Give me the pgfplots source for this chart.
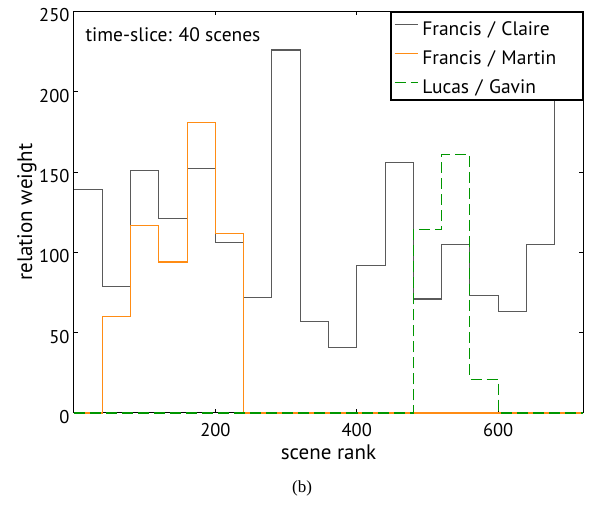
\documentclass[border=0pt]{standalone}
\usepackage{fontspec}
\setmainfont{PT Sans}
\newfontfamily\capfont{Liberation Serif}
\usepackage{pgfplots}
\pgfplotsset{compat=1.18}
\definecolor{claire}{RGB}{90,90,90}
\definecolor{martin}{RGB}{255,140,20}
\definecolor{lucas}{RGB}{0,150,0}
\begin{document}
\begin{tikzpicture}
\begin{axis}[
  scale only axis, width=509pt, height=401.5pt,
  xmin=0, xmax=720, ymin=0, ymax=250,
  xtick={200,400,600}, ytick={0,50,100,150,200,250},
  tick pos=both, tick align=inside, major tick length=4pt,
  /pgf/number format/assume math mode=true,
  font=\fontsize{19.5}{23}\selectfont,
  ticklabel style={font=\fontsize{18.5}{22}\selectfont},
  xticklabel style={yshift=-6.5pt},
  yticklabel style={xshift=-1pt, yshift=-4pt},
  xlabel={scene rank}, ylabel={relation weight},
  label style={font=\fontsize{21}{25}\selectfont},
  xlabel style={at={(axis description cs:0.5,-0.117)}, anchor=base},
  ylabel style={at={(axis description cs:-0.0825,0.5)}, anchor=base},
  axis line style={black, line width=1pt},
  every tick/.style={black, line width=0.8pt},
  legend style={at={(1,1)}, anchor=north east, draw=black, line width=1.4pt,
    inner xsep=3pt, inner ysep=4.5pt, row sep=8pt, column sep=4pt,
    nodes={inner sep=0pt, text height=19pt, text depth=2pt, text width=157pt},
    font=\fontsize{19.5}{23}\selectfont},
  legend cell align=left,
  legend image code/.code={\draw[#1, line width=1.2pt] (0pt,2.5pt) -- (23pt,2.5pt);},
  clip=false,
]
\addplot[const plot, draw=claire, line width=1.1pt] coordinates {
(0,139) (40,79) (80,151) (120,121) (160,152) (200,106) (240,72) (280,226)
(320,57) (360,41) (400,92) (440,156) (480,71) (520,105) (560,73) (600,63)
(640,105) (680,210) (720,210)};
\addlegendentry{Francis / Claire}
\addplot[const plot, draw=martin, line width=1.1pt] coordinates {
(0,0) (40,60) (80,117) (120,94) (160,181) (200,112) (240,0) (280,0) (320,0)
(360,0) (400,0) (440,0) (480,0) (520,0) (560,0) (600,0) (640,0) (680,0) (720,0)};
\addlegendentry{Francis / Martin}
\addplot[const plot, draw=lucas, line width=1.1pt, dash pattern=on 11pt off 5pt] coordinates {
(0,0) (40,0) (80,0) (120,0) (160,0) (200,0) (240,0) (280,0) (320,0) (360,0)
(400,0) (440,0) (480,114) (520,161) (560,21) (600,0) (640,0) (680,0) (720,0)};
\addlegendentry{Lucas / Gavin}
\node[anchor=west, font=\fontsize{19.5}{23}\selectfont] at (rel axis cs:0.0157,0.9427) {time-slice: 40 scenes};
\end{axis}
\node[font=\capfont\fontsize{17}{20}\selectfont] at (228pt,-75pt) {(b)};
\pgfresetboundingbox
\path (-74pt,-95pt) rectangle (515pt,413pt);
\end{tikzpicture}
\end{document}
